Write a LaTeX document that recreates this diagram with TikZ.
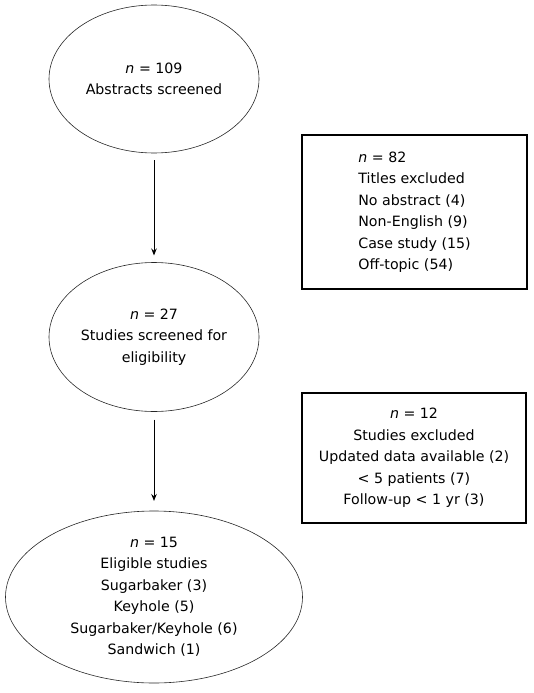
\documentclass[tikz,border=0pt]{standalone}
\usepackage{fontspec}
\setmainfont{DejaVu Sans}
\usetikzlibrary{shapes.geometric,arrows.meta}
\tikzstyle{el}=[ellipse,draw=black!85,line width=0.6pt,inner sep=0pt,
  outer sep=0pt,align=center,font=\fontsize{14.2}{21.5}\selectfont]
\tikzstyle{bx}=[rectangle,draw=black,line width=1.3pt,inner sep=0pt,
  outer sep=0pt,font=\fontsize{14.2}{21.5}\selectfont]
\tikzstyle{ar}=[-{Stealth[length=7pt,width=5.5pt]},line width=1pt]

\begin{document}
\begin{tikzpicture}[x=1pt,y=-1pt]
        \useasboundingbox (0,0) rectangle (533,693);
        \node[style=el,minimum width=210pt,minimum height=148pt] (e1) at (154,79)
          {\textit{n} = 109\\Abstracts screened};
        \node[style=el,minimum width=210pt,minimum height=149pt] (e2) at (154,337)
          {\textit{n} = 27\\Studies screened for\\eligibility};
        \node[style=el,minimum width=297pt,minimum height=172pt] (e3) at (154,597)
          {\textit{n} = 15\\Eligible studies\\Sugarbaker (3)\\Keyhole (5)\\Sugarbaker/Keyhole (6)\\Sandwich (1)};
        \node[style=bx,minimum width=225pt,minimum height=154pt,align=left] (b1) at (414.5,212)
          {\textit{n} = 82\\Titles excluded\\No abstract (4)\\Non-English (9)\\Case study (15)\\Off-topic (54)};
        \node[style=bx,minimum width=224pt,minimum height=130pt,align=center] (b2) at (414,458)
          {\textit{n} = 12\\Studies excluded\\Updated data available (2)\\< 5 patients (7)\\Follow-up < 1 yr (3)};
        \draw[style=ar,shorten <=7pt,shorten >=7pt] (e1.south) to (e2.north);
        \draw[style=ar,shorten <=8pt,shorten >=10pt] (e2.south) to (e3.north);
    \end{tikzpicture}
\end{document}
